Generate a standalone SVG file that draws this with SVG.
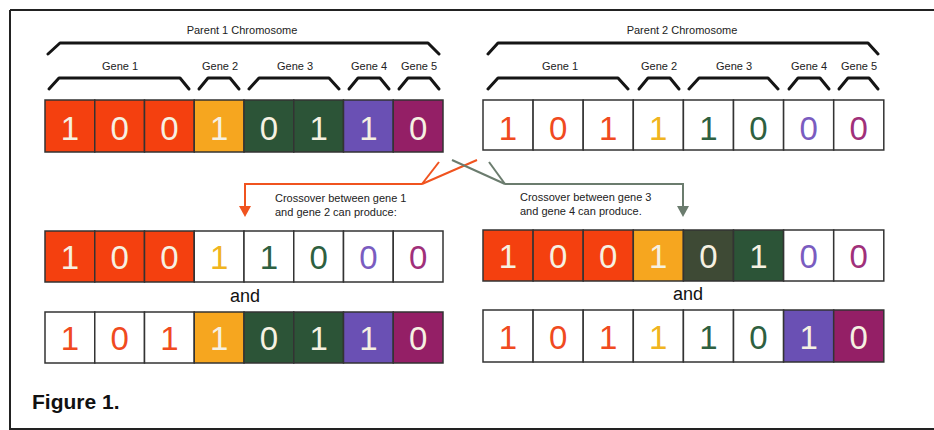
<svg xmlns="http://www.w3.org/2000/svg" width="934" height="430" viewBox="0 0 934 430">
<defs>
<style>
.frame{stroke:#222;stroke-width:2;fill:none}
.brace{fill:none;stroke:#151515;stroke-width:3;stroke-linejoin:round;stroke-linecap:round}
.lbl{font-family:"Liberation Sans",Arial,sans-serif;font-size:11px;fill:#222;text-anchor:middle}
.note{font-family:"Liberation Sans",Arial,sans-serif;font-size:11px;fill:#222}
.and{font-family:"Liberation Sans",Arial,sans-serif;font-size:18px;fill:#111;text-anchor:middle}
.cell{stroke:#333;stroke-width:1.5}
.d{font-family:"Liberation Sans",Arial,sans-serif;font-size:33px;text-anchor:middle}
.R{fill:#f4400f}.O{fill:#f6a61f}.G{fill:#2c5437}.K{fill:#3e4a35}.P{fill:#6a50b4}.M{fill:#941f66}.W{fill:#ffffff}
.tw{fill:#f6f1e2}.tR{fill:#f04a20}.tO{fill:#f0b420}.tG{fill:#2e6040}.tP{fill:#7a5cc0}.tM{fill:#a0307a}
.fig{font-family:"Liberation Sans",Arial,sans-serif;font-size:21px;font-weight:900;fill:#111}
.co{fill:none;stroke:#f0531f;stroke-width:2}
.cg{fill:none;stroke:#6b7c6e;stroke-width:2}
</style>
<marker id="ao" markerUnits="userSpaceOnUse" markerWidth="12" markerHeight="12" refX="1" refY="6" orient="auto" viewBox="0 0 12 12"><path d="M0,0 L11,6 L0,12 Z" fill="#f0531f"/></marker>
<marker id="ag" markerUnits="userSpaceOnUse" markerWidth="12" markerHeight="12" refX="1" refY="6" orient="auto" viewBox="0 0 12 12"><path d="M0,0 L11,6 L0,12 Z" fill="#6b7c6e"/></marker>
</defs>
<rect width="934" height="430" fill="#fff"/>
<g id="frame">
<line class="frame" x1="10" y1="10" x2="934" y2="10"/>
<line class="frame" x1="10" y1="10" x2="10" y2="430"/>
<line class="frame" x1="10" y1="429" x2="934" y2="429" stroke-width="1.5"/>
</g>

<g id="parent1-labels">
<text class="lbl" x="242" y="34">Parent 1 Chromosome</text>
<path class="brace" d="M48,54 L60,43 L428,43 L439,54"/>
<text class="lbl" x="120" y="70">Gene 1</text>
<text class="lbl" x="220" y="70">Gene 2</text>
<text class="lbl" x="295" y="70">Gene 3</text>
<text class="lbl" x="369" y="70">Gene 4</text>
<text class="lbl" x="419" y="70">Gene 5</text>
<path class="brace" d="M49,89 L59,78 L180,78 L189,89"/>
<path class="brace" d="M199,89 L208,78 L230,78 L239,89"/>
<path class="brace" d="M249,89 L259,78 L329,78 L339,89"/>
<path class="brace" d="M349,89 L358,78 L380,78 L389,89"/>
<path class="brace" d="M399,89 L408,78 L430,78 L439,89"/>
</g>

<g id="parent2-labels">
<text class="lbl" x="682" y="34">Parent 2 Chromosome</text>
<path class="brace" d="M488,54 L498,43 L868,43 L878,54"/>
<text class="lbl" x="560" y="70">Gene 1</text>
<text class="lbl" x="659" y="70">Gene 2</text>
<text class="lbl" x="734" y="70">Gene 3</text>
<text class="lbl" x="809" y="70">Gene 4</text>
<text class="lbl" x="859" y="70">Gene 5</text>
<path class="brace" d="M488,89 L498,78 L618,78 L628,89"/>
<path class="brace" d="M639,89 L648,78 L670,78 L679,89"/>
<path class="brace" d="M689,89 L699,78 L768,78 L778,89"/>
<path class="brace" d="M789,89 L798,78 L820,78 L829,89"/>
<path class="brace" d="M839,89 L848,78 L869,78 L878,89"/>
</g>

<g id="parent1" transform="translate(45,100)">
<rect class="cell R" x="0" y="0" width="49.75" height="52"/>
<rect class="cell R" x="49.75" y="0" width="49.75" height="52"/>
<rect class="cell R" x="99.5" y="0" width="49.75" height="52"/>
<rect class="cell O" x="149.25" y="0" width="49.75" height="52"/>
<rect class="cell G" x="199" y="0" width="49.75" height="52"/>
<rect class="cell G" x="248.75" y="0" width="49.75" height="52"/>
<rect class="cell P" x="298.5" y="0" width="49.75" height="52"/>
<rect class="cell M" x="348.25" y="0" width="49.75" height="52"/>
<text class="d tw" x="24.9" y="40">1</text>
<text class="d tw" x="74.6" y="40">0</text>
<text class="d tw" x="124.4" y="40">0</text>
<text class="d tw" x="174.1" y="40">1</text>
<text class="d tw" x="223.9" y="40">0</text>
<text class="d tw" x="273.6" y="40">1</text>
<text class="d tw" x="323.4" y="40">1</text>
<text class="d tw" x="373.1" y="40">0</text>
</g>

<g id="parent2" transform="translate(483,100)">
<rect class="cell W" x="0" y="0" width="50.1" height="50"/>
<rect class="cell W" x="50.1" y="0" width="50.1" height="50"/>
<rect class="cell W" x="100.2" y="0" width="50.1" height="50"/>
<rect class="cell W" x="150.3" y="0" width="50.1" height="50"/>
<rect class="cell W" x="200.4" y="0" width="50.1" height="50"/>
<rect class="cell W" x="250.5" y="0" width="50.1" height="50"/>
<rect class="cell W" x="300.6" y="0" width="50.1" height="50"/>
<rect class="cell W" x="350.7" y="0" width="50.1" height="50"/>
<text class="d tR" x="25" y="40">1</text>
<text class="d tR" x="75.1" y="40">0</text>
<text class="d tR" x="125.2" y="40">1</text>
<text class="d tO" x="175.3" y="40">1</text>
<text class="d tG" x="225.4" y="40">1</text>
<text class="d tG" x="275.5" y="40">0</text>
<text class="d tP" x="325.6" y="40">0</text>
<text class="d tM" x="375.7" y="40">0</text>
</g>

<g id="connectors">
<path class="co" d="M439,162 L422,184"/>
<path class="co" d="M477,160 L422,184"/>
<path class="co" d="M422,184 L245,184 L245,207" marker-end="url(#ao)"/>
<path class="cg" d="M452,160 L505,184"/>
<path class="cg" d="M489,162 L505,184"/>
<path class="cg" d="M505,184 L683,184 L683,207" marker-end="url(#ag)"/>
</g>

<g id="note1">
<text class="note" x="275" y="202">Crossover between gene 1</text>
<text class="note" x="275" y="216">and gene 2 can produce:</text>
</g>
<g id="note2">
<text class="note" x="520" y="201">Crossover between gene 3</text>
<text class="note" x="520" y="215">and gene 4 can produce.</text>
</g>

<g id="child1a" transform="translate(45,231)">
<rect class="cell R" x="0" y="0" width="49.75" height="51"/>
<rect class="cell R" x="49.75" y="0" width="49.75" height="51"/>
<rect class="cell R" x="99.5" y="0" width="49.75" height="51"/>
<rect class="cell W" x="149.25" y="0" width="49.75" height="51"/>
<rect class="cell W" x="199" y="0" width="49.75" height="51"/>
<rect class="cell W" x="248.75" y="0" width="49.75" height="51"/>
<rect class="cell W" x="298.5" y="0" width="49.75" height="51"/>
<rect class="cell W" x="348.25" y="0" width="49.75" height="51"/>
<text class="d tw" x="24.9" y="38">1</text>
<text class="d tw" x="74.6" y="38">0</text>
<text class="d tw" x="124.4" y="38">0</text>
<text class="d tO" x="174.1" y="38">1</text>
<text class="d tG" x="223.9" y="38">1</text>
<text class="d tG" x="273.6" y="38">0</text>
<text class="d tP" x="323.4" y="38">0</text>
<text class="d tM" x="373.1" y="38">0</text>
</g>
<text class="and" x="245" y="302">and</text>
<g id="child1b" transform="translate(45,312)">
<rect class="cell W" x="0" y="0" width="49.75" height="51"/>
<rect class="cell W" x="49.75" y="0" width="49.75" height="51"/>
<rect class="cell W" x="99.5" y="0" width="49.75" height="51"/>
<rect class="cell O" x="149.25" y="0" width="49.75" height="51"/>
<rect class="cell G" x="199" y="0" width="49.75" height="51"/>
<rect class="cell G" x="248.75" y="0" width="49.75" height="51"/>
<rect class="cell P" x="298.5" y="0" width="49.75" height="51"/>
<rect class="cell M" x="348.25" y="0" width="49.75" height="51"/>
<text class="d tR" x="24.9" y="38">1</text>
<text class="d tR" x="74.6" y="38">0</text>
<text class="d tR" x="124.4" y="38">1</text>
<text class="d tw" x="174.1" y="38">1</text>
<text class="d tw" x="223.9" y="38">0</text>
<text class="d tw" x="273.6" y="38">1</text>
<text class="d tw" x="323.4" y="38">1</text>
<text class="d tw" x="373.1" y="38">0</text>
</g>

<g id="child2a" transform="translate(483,230)">
<rect class="cell R" x="0" y="0" width="50.1" height="51"/>
<rect class="cell R" x="50.1" y="0" width="50.1" height="51"/>
<rect class="cell R" x="100.2" y="0" width="50.1" height="51"/>
<rect class="cell O" x="150.3" y="0" width="50.1" height="51"/>
<rect class="cell K" x="200.4" y="0" width="50.1" height="51"/>
<rect class="cell G" x="250.5" y="0" width="50.1" height="51"/>
<rect class="cell W" x="300.6" y="0" width="50.1" height="51"/>
<rect class="cell W" x="350.7" y="0" width="50.1" height="51"/>
<text class="d tw" x="25" y="38">1</text>
<text class="d tw" x="75.1" y="38">0</text>
<text class="d tw" x="125.2" y="38">0</text>
<text class="d tw" x="175.3" y="38">1</text>
<text class="d tw" x="225.4" y="38">0</text>
<text class="d tw" x="275.5" y="38">1</text>
<text class="d tP" x="325.6" y="38">0</text>
<text class="d tM" x="375.7" y="38">0</text>
</g>
<text class="and" x="688" y="300">and</text>
<g id="child2b" transform="translate(483,310)">
<rect class="cell W" x="0" y="0" width="50.1" height="52"/>
<rect class="cell W" x="50.1" y="0" width="50.1" height="52"/>
<rect class="cell W" x="100.2" y="0" width="50.1" height="52"/>
<rect class="cell W" x="150.3" y="0" width="50.1" height="52"/>
<rect class="cell W" x="200.4" y="0" width="50.1" height="52"/>
<rect class="cell W" x="250.5" y="0" width="50.1" height="52"/>
<rect class="cell P" x="300.6" y="0" width="50.1" height="52"/>
<rect class="cell M" x="350.7" y="0" width="50.1" height="52"/>
<text class="d tR" x="25" y="39">1</text>
<text class="d tR" x="75.1" y="39">0</text>
<text class="d tR" x="125.2" y="39">1</text>
<text class="d tO" x="175.3" y="39">1</text>
<text class="d tG" x="225.4" y="39">1</text>
<text class="d tG" x="275.5" y="39">0</text>
<text class="d tw" x="325.6" y="39">1</text>
<text class="d tw" x="375.7" y="39">0</text>
</g>

<text class="fig" x="32" y="409">Figure 1.</text>
</svg>
